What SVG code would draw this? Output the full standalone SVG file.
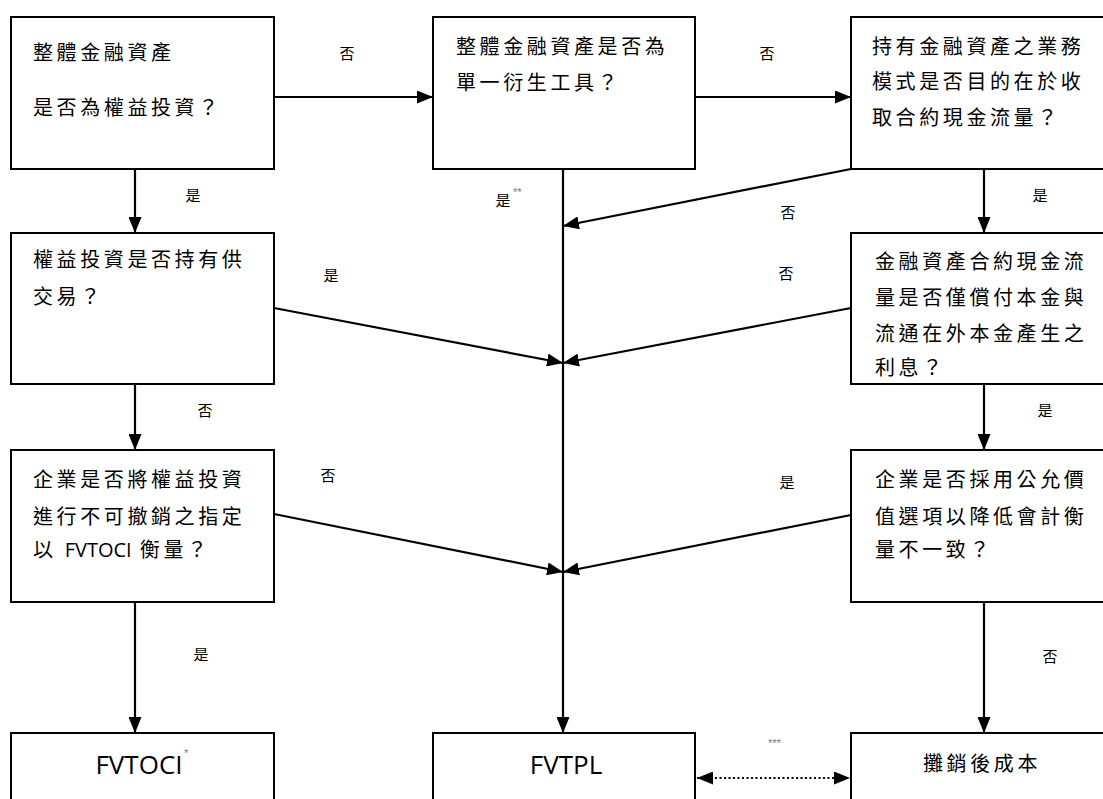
<svg xmlns="http://www.w3.org/2000/svg" width="1103" height="799" viewBox="0 0 1103 799">
<style>
.box{fill:#fff;stroke:#000;stroke-width:2}
.t{font-family:"Noto Sans CJK TC","Noto Sans CJK SC",sans-serif;font-size:20px;letter-spacing:3.6px;fill:#000}
.lbl{font-family:"Noto Sans CJK TC","Noto Sans CJK SC",sans-serif;font-size:15px;fill:#000;text-anchor:middle}
.lat{font-family:"Open Sans","Noto Sans",sans-serif;letter-spacing:0}
.res{font-family:"Open Sans","Noto Sans",sans-serif;font-size:26px;fill:#000;text-anchor:middle}
.ast{font-family:"Liberation Sans",sans-serif;font-size:11px;fill:#777}
.c{stroke:#000;stroke-width:2.2;fill:none;marker-end:url(#ah)}
</style>
<defs>
<marker id="ah" markerUnits="userSpaceOnUse" markerWidth="17" markerHeight="13" refX="16" refY="6.5" orient="auto">
<path d="M0,0 L16,6.5 L0,13 z" fill="#000"/>
</marker>
<marker id="ahs" markerUnits="userSpaceOnUse" markerWidth="17" markerHeight="13" refX="16" refY="6.5" orient="auto-start-reverse">
<path d="M0,0 L16,6.5 L0,13 z" fill="#000"/>
</marker>
</defs>
<rect width="1103" height="799" fill="#fff"/>

<g id="connectors">
<line class="c" x1="274" y1="97" x2="433" y2="97"/>
<line class="c" x1="695" y1="97" x2="851" y2="97"/>
<line class="c" x1="135" y1="169" x2="135" y2="233"/>
<line class="c" x1="135" y1="384" x2="135" y2="450"/>
<line class="c" x1="135" y1="602" x2="135" y2="733"/>
<line class="c" x1="984" y1="169" x2="984" y2="233"/>
<line class="c" x1="984" y1="384" x2="984" y2="450"/>
<line class="c" x1="984" y1="602" x2="984" y2="733"/>
<line class="c" x1="563" y1="169" x2="563" y2="733"/>
<line class="c" x1="851" y1="169" x2="563" y2="226"/>
<line class="c" x1="274" y1="308" x2="563" y2="363"/>
<line class="c" x1="851" y1="308" x2="563" y2="363"/>
<line class="c" x1="274" y1="514" x2="563" y2="572"/>
<line class="c" x1="851" y1="515" x2="563" y2="572"/>
<line x1="697" y1="778" x2="850" y2="778" stroke="#000" stroke-width="2.2" stroke-dasharray="2,2.5" marker-start="url(#ahs)" marker-end="url(#ah)"/>
<text class="lbl" x="347" y="59">否</text>
<text class="lbl" x="767" y="59">否</text>
<text class="lbl" x="193" y="201">是</text>
<text class="lbl" x="503" y="206">是</text>
<text class="ast" x="513" y="196">**</text>
<text class="lbl" x="788" y="218">否</text>
<text class="lbl" x="1040" y="201">是</text>
<text class="lbl" x="331" y="281">是</text>
<text class="lbl" x="786" y="279">否</text>
<text class="lbl" x="205" y="416">否</text>
<text class="lbl" x="1045" y="416">是</text>
<text class="lbl" x="328" y="481">否</text>
<text class="lbl" x="787" y="488">是</text>
<text class="lbl" x="201" y="660">是</text>
<text class="lbl" x="1050" y="662">否</text>
<text class="ast" x="768" y="747">***</text>
</g>

<g id="n1">
<rect class="box" x="11" y="17" width="263" height="152"/>
<text class="t" x="33" y="60">整體金融資產</text>
<text class="t" x="33" y="115">是否為權益投資？</text>
</g>
<g id="n2">
<rect class="box" x="433" y="17" width="262" height="152"/>
<text class="t" x="456" y="54">整體金融資產是否為</text>
<text class="t" x="456" y="90">單一衍生工具？</text>
</g>
<g id="n3">
<rect class="box" x="851" y="17" width="262" height="152"/>
<text class="t" x="872" y="54">持有金融資產之業務</text>
<text class="t" x="872" y="89">模式是否目的在於收</text>
<text class="t" x="872" y="125">取合約現金流量？</text>
</g>
<g id="n4">
<rect class="box" x="11" y="233" width="263" height="151"/>
<text class="t" x="33" y="267">權益投資是否持有供</text>
<text class="t" x="33" y="304">交易？</text>
</g>
<g id="n5">
<rect class="box" x="851" y="233" width="262" height="151"/>
<text class="t" x="875" y="269">金融資產合約現金流</text>
<text class="t" x="875" y="305">量是否僅償付本金與</text>
<text class="t" x="875" y="341">流通在外本金產生之</text>
<text class="t" x="875" y="375">利息？</text>
</g>
<g id="n6">
<rect class="box" x="11" y="450" width="263" height="152"/>
<text class="t" x="33" y="487">企業是否將權益投資</text>
<text class="t" x="33" y="524">進行不可撤銷之指定</text>
<text class="t" x="33" y="557">以 <tspan class="lat">FVTOCI</tspan> 衡量？</text>
</g>
<g id="n7">
<rect class="box" x="851" y="450" width="262" height="152"/>
<text class="t" x="875" y="487">企業是否採用公允價</text>
<text class="t" x="875" y="524">值選項以降低會計衡</text>
<text class="t" x="875" y="557">量不一致？</text>
</g>
<g id="n8">
<rect class="box" x="11" y="733" width="263" height="80"/>
<text class="res" x="139" y="774">FVTOCI</text>
<text class="ast" x="184" y="757">*</text>
</g>
<g id="n9">
<rect class="box" x="433" y="733" width="262" height="80"/>
<text class="res" x="566" y="774">FVTPL</text>
</g>
<g id="n10">
<rect class="box" x="851" y="733" width="262" height="80"/>
<text class="t" x="982" y="771" text-anchor="middle">攤銷後成本</text>
</g>
</svg>
